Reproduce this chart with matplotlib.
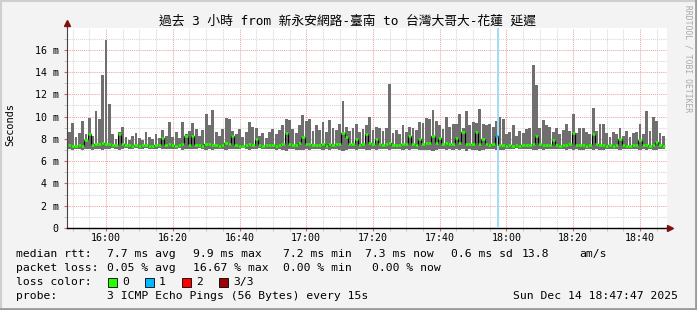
"""SmokePing style latency chart (3 hours)."""

import matplotlib

matplotlib.use("Agg")
from matplotlib import pyplot as plt  # noqa: E402
from matplotlib.lines import Line2D  # noqa: E402
from matplotlib.patches import Rectangle  # noqa: E402
import numpy as np  # noqa: E402

TITLE = "過去 3 小時 from 新永安網路-臺南 to 台灣大哥大-花蓮 延遲"

# one smoke bin per minute, first bin centred at 15:49
first_bin = "15:49"
ref_clock = "16:00"

ping_max = [
    8.6, 9.4, 8.2, 8.5, 9.6, 8.4, 9.9, 8.3, 10.5, 9.8,
    13.7, 16.9, 11.1, 8.4, 8.0, 8.6, 9.1, 8.2, 7.9, 8.3,
    8.5, 8.1, 7.9, 8.6, 8.2, 8.0, 8.4, 8.1, 8.8, 8.3,
    9.5, 8.2, 8.6, 8.1, 9.5, 8.4, 8.7, 9.4, 8.9, 8.3,
    8.8, 10.2, 9.2, 10.6, 8.6, 8.3, 8.9, 9.85, 9.8, 8.7,
    8.4, 8.9, 8.2, 8.6, 9.5, 9.1, 9.0, 8.3, 8.5, 8.1,
    8.6, 8.9, 8.4, 8.8, 9.2, 9.8, 9.7, 8.9, 8.5, 9.2,
    10.1, 9.6, 9.8, 8.7, 9.2, 8.8, 9.5, 8.6, 9.7, 9.0,
    8.8, 9.3, 11.4, 9.1, 8.7, 9.0, 9.3, 8.6, 8.9, 9.2,
    10.0, 8.8, 9.1, 9.0, 8.7, 9.0, 12.9, 8.5, 8.8, 8.4,
    9.2, 8.6, 9.1, 9.0, 8.8, 9.5, 9.4, 9.9, 9.8, 10.6,
    9.6, 9.2, 8.9, 10.0, 9.1, 9.3, 9.3, 10.2, 9.0, 10.5,
    9.2, 9.5, 9.4, 10.7, 9.3, 9.2, 9.3, 9.1, 9.6, 10.0,
    9.8, 8.4, 8.6, 9.2, 8.3, 8.7, 8.5, 8.9, 9.0, 14.6,
    12.8, 9.0, 9.7, 9.2, 9.1, 8.6, 9.0, 8.4, 8.8, 9.3,
    8.7, 10.2, 8.5, 9.0, 9.0, 8.6, 8.4, 10.8, 8.7, 9.3,
    9.3, 8.5, 8.2, 8.6, 8.4, 9.0, 8.3, 8.7, 8.2, 8.5,
    8.6, 9.3, 8.4, 10.5, 8.7, 10.0, 9.6, 8.5, 8.3,
]

ping_min = [
    7.10, 7.02, 7.12, 7.05, 7.00, 7.10, 7.08, 7.02, 7.12, 7.05,
    7.00, 7.05, 7.10, 7.15, 7.08, 7.02, 7.10, 7.15, 7.12, 7.08,
    7.15, 7.10, 7.12, 7.18, 7.10, 7.05, 7.12, 7.15, 7.08, 7.10,
    7.05, 7.12, 7.10, 7.15, 7.02, 7.08, 7.12, 7.05, 7.10, 7.15,
    7.08, 7.00, 7.05, 7.02, 7.10, 7.12, 7.08, 7.00, 7.05, 7.10,
    7.12, 7.08, 7.15, 7.10, 7.02, 7.05, 7.10, 7.15, 7.12, 7.08,
    7.05, 7.10, 7.02, 7.08, 7.00, 6.95, 7.05, 7.10, 7.02, 7.00,
    6.98, 7.05, 7.02, 7.10, 7.05, 7.08, 7.00, 7.12, 7.02, 7.05,
    7.10, 7.02, 6.95, 7.00, 7.08, 7.05, 7.00, 7.10, 7.05, 7.00,
    6.98, 7.08, 7.02, 7.10, 7.12, 7.05, 7.00, 7.10, 7.08, 7.12,
    7.02, 7.10, 7.00, 7.08, 7.05, 7.00, 7.02, 6.98, 7.00, 6.95,
    7.02, 7.05, 7.10, 7.00, 7.08, 7.02, 7.05, 6.98, 7.05, 6.95,
    7.05, 7.00, 6.98, 6.95, 7.02, 7.08, 7.05, 7.10, 7.00, 6.98,
    7.02, 7.10, 7.12, 7.05, 7.15, 7.10, 7.12, 7.08, 7.05, 7.00,
    6.98, 7.08, 7.02, 7.10, 7.05, 7.10, 7.08, 7.12, 7.05, 7.02,
    7.08, 6.98, 7.05, 7.02, 7.00, 7.08, 7.12, 6.98, 7.05, 7.02,
    7.00, 7.08, 7.12, 7.05, 7.10, 7.02, 7.08, 7.05, 7.12, 7.08,
    7.05, 7.02, 7.10, 6.98, 7.05, 7.00, 7.02, 7.08, 7.10,
]

ping_median = [
    7.42, 7.38, 7.35, 7.45, 7.40, 7.90, 8.40, 7.45, 7.50, 7.55,
    7.60, 7.55, 7.50, 7.45, 7.48, 8.40, 7.50, 7.45, 7.42, 7.40,
    7.45, 7.38, 7.42, 7.48, 7.40, 7.35, 7.45, 7.42, 8.10, 7.45,
    7.50, 7.42, 7.38, 7.45, 7.50, 8.30, 7.48, 8.30, 7.45, 7.42,
    7.40, 7.50, 7.55, 7.48, 7.42, 7.38, 7.45, 7.60, 7.55, 8.30,
    7.45, 7.40, 7.38, 7.42, 7.50, 7.48, 8.00, 7.42, 7.40, 7.45,
    7.42, 7.48, 7.40, 7.45, 7.50, 8.50, 7.55, 7.48, 7.45, 7.60,
    8.20, 7.55, 7.50, 7.42, 7.48, 7.45, 7.52, 7.40, 7.55, 7.48,
    7.50, 7.55, 8.50, 8.20, 7.55, 7.50, 8.00, 7.48, 7.55, 8.40,
    7.60, 7.55, 8.00, 7.50, 7.45, 7.52, 7.60, 7.45, 7.48, 7.42,
    7.50, 7.55, 8.30, 7.50, 7.48, 8.00, 7.55, 7.60, 7.65, 8.30,
    7.60, 8.10, 7.55, 7.62, 7.50, 7.55, 8.10, 7.60, 8.60, 7.55,
    7.50, 7.58, 8.60, 7.55, 8.00, 7.50, 7.45, 7.52, 8.30, 7.48,
    7.45, 7.40, 7.42, 7.38, 7.45, 7.40, 7.42, 7.48, 7.45, 7.55,
    8.30, 7.50, 7.45, 7.42, 7.48, 7.90, 7.45, 7.40, 7.42, 7.45,
    7.50, 8.50, 7.45, 7.42, 7.48, 7.40, 7.45, 8.40, 7.50, 7.45,
    7.42, 7.40, 7.45, 7.38, 7.42, 8.00, 7.45, 7.40, 7.38, 7.42,
    7.45, 7.90, 7.42, 7.48, 7.40, 7.45, 7.70, 7.42, 7.40,
]

# bins with lost pings (clock, lost of 3)
loss_times = ["17:57:27"]
loss_counts = [1]

x_tick_labels = ["16:00", "16:20", "16:40", "17:00", "17:20", "17:40",
                 "18:00", "18:20", "18:40"]
y_tick_values = [0, 2, 4, 6, 8, 10, 12, 14, 16]
y_tick_labels = ["0", "2 m", "4 m", "6 m", "8 m", "10 m", "12 m", "14 m", "16 m"]

LOSS_COLORS = ["#26ff00", "#00b8ff", "#ff0000", "#a00000"]
LOSS_NAMES = ["0", "1", "2", "3/3"]

legend_rows = [
    [("median rtt:", 16), ("7.7 ms avg", 107), ("9.9 ms max", 193),
     ("7.2 ms min", 283), ("7.3 ms now", 365), ("0.6 ms sd", 451),
     ("13.8", 522), ("am/s", 579)],
    [("packet loss:", 16), ("0.05 % avg", 107), ("16.67 % max", 193),
     ("0.00 % min", 283), ("0.00 % now", 372)],
]
probe_text = "3 ICMP Echo Pings (56 Bytes) every 15s"
stamp_text = "Sun Dec 14 18:47:47 2025"

MONO = "DejaVu Sans Mono"
W, H = 697, 310


def clock_to_min(clock: str) -> float:
    parts = [int(p) for p in clock.split(":")]
    while len(parts) < 3:
        parts.append(0)
    h, m, s = parts
    rh, rm = (int(p) for p in ref_clock.split(":"))
    return (h - rh) * 60 + (m - rm) + s / 60.0


def px(x, y):
    return x / W, 1 - y / H


t0 = clock_to_min(first_bin)
times = t0 + np.arange(len(ping_max))
ping_max = np.array(ping_max)
ping_min = np.array(ping_min)
ping_median = np.array(ping_median)

fig = plt.figure(figsize=(W / 100, H / 100), dpi=100, facecolor="#f3f3f3")
ax = fig.add_axes([67 / W, (H - 228) / H, 600 / W, 200 / H])
ax.set_facecolor("#ffffff")

x_left, x_right = -11.69, 168.1
ax.set_xlim(x_left, x_right)
ax.set_ylim(0, 17.95)

# grid
major_x = [clock_to_min(c) for c in x_tick_labels]
minor_x = np.arange(-10, 168, 5)
ax.set_xticks(major_x, x_tick_labels)
ax.set_xticks(minor_x, minor=True)
ax.set_yticks(y_tick_values, y_tick_labels)
ax.set_yticks(np.arange(0, 18, 1), minor=True)
ax.grid(which="minor", color="#d6d6d6", linestyle=(0, (1, 1)), linewidth=0.75)
ax.grid(which="major", color="#eea4a4", linestyle=(0, (1, 1)), linewidth=0.75)
ax.set_axisbelow(True)

ax.tick_params(axis="both", which="both", labelsize=7.2, colors="#000000")
ax.tick_params(axis="x", which="major", length=2.5, color="#e06060", pad=1.4)
ax.tick_params(axis="x", which="minor", length=2, color="#bbbbbb")
ax.tick_params(axis="y", which="major", length=2.5, color="#e06060", pad=3.4)
ax.tick_params(axis="y", which="minor", length=2, color="#bbbbbb")
for lab in ax.get_xticklabels() + ax.get_yticklabels():
    lab.set_family(MONO)

for side in ("top", "right"):
    ax.spines[side].set_visible(False)
ax.spines["bottom"].set_color("#000000")
ax.spines["left"].set_color("#444444")
ax.spines["bottom"].set_linewidth(1.0)
ax.spines["left"].set_linewidth(0.8)

# smoke: solid from min up to the median ping, thin spikes above it
ax.bar(times, ping_median - ping_min, bottom=ping_min, width=1.0,
       color="#6f6f6f", linewidth=0, zorder=2)
ax.bar(times, ping_max - ping_median, bottom=ping_median, width=0.85,
       color="#6f6f6f", linewidth=0, zorder=2)

# loss bars
loss_pos = [clock_to_min(c) for c in loss_times]
for pos, cnt in zip(loss_pos, loss_counts):
    ax.axvspan(pos - 0.3, pos + 0.3, color="#a4dcf2", linewidth=0, zorder=3)

# median line coloured by loss
ax.step(times, ping_median, where="mid", color="#000000", linewidth=0.8, zorder=4)
colors = [LOSS_COLORS[0]] * len(times)
for pos, cnt in zip(loss_pos, loss_counts):
    idx = int(np.argmin(np.abs(times - pos)))
    colors[idx] = LOSS_COLORS[cnt]
ax.hlines(ping_median, times - 0.5, times + 0.5, colors=colors,
          linewidth=1.8, zorder=5)

# axis arrows
ax.plot([x_right, 168.9], [0, 0], color="#000000", linewidth=1.0,
        clip_on=False, zorder=6)
ax.plot([168.9], [0], marker=">", markersize=4, color="#7f1010",
        clip_on=False, zorder=7)
ax.plot([x_left, x_left], [17.95, 18.4], color="#444444", linewidth=0.8,
        clip_on=False, zorder=6)
ax.plot([x_left], [18.4], marker="^", markersize=4, color="#7f1010",
        clip_on=False, zorder=7)

# texts
fig.text(*px(347.5, 21.5), TITLE, ha="center", va="center", fontsize=9.2,
         family=[MONO, "Noto Sans CJK TC"])
fig.text(*px(10, 125), "Seconds", rotation=90, ha="center", va="center",
         fontsize=7.4, family=MONO)
fig.text(*px(688, 59), "RRDTOOL / TOBI OETIKER", rotation=270, ha="center",
         va="center", fontsize=5.8, family=MONO, color="#a8a8a8")

LEG = 8.2
row_y = [254, 268, 282, 296]
for row, y in zip(legend_rows, row_y[:2]):
    for text, x in row:
        fig.text(*px(x, y), text, ha="left", va="center", fontsize=LEG, family=MONO)

fig.text(*px(16, row_y[2]), "loss color:", ha="left", va="center",
         fontsize=LEG, family=MONO)
box_x = [108, 145, 182, 219]
for bx, col, name in zip(box_x, LOSS_COLORS, LOSS_NAMES):
    fig.add_artist(Rectangle(px(bx, row_y[2] + 4.5), 8.5 / W, 8.5 / H,
                             facecolor=col, edgecolor="#000000",
                             linewidth=0.6, transform=fig.transFigure))
    fig.text(*px(bx + 14, row_y[2]), name, ha="left", va="center",
             fontsize=LEG, family=MONO)

fig.text(*px(16, row_y[3]), "probe:", ha="left", va="center",
         fontsize=LEG, family=MONO)
fig.text(*px(107, row_y[3]), probe_text, ha="left", va="center",
         fontsize=LEG, family=MONO)
fig.text(*px(513, row_y[3]), stamp_text, ha="left", va="center",
         fontsize=LEG, family=MONO)

# 3d frame
fig.add_artist(Line2D([0, 1], [1 - 1 / H, 1 - 1 / H], color="#cfcfcf",
                      linewidth=1.5, transform=fig.transFigure))
fig.add_artist(Line2D([1 / W, 1 / W], [0, 1], color="#cfcfcf",
                      linewidth=1.5, transform=fig.transFigure))
fig.add_artist(Line2D([0, 1], [1 / H, 1 / H], color="#9a9a9a",
                      linewidth=2.0, transform=fig.transFigure))
fig.add_artist(Line2D([1 - 1 / W, 1 - 1 / W], [0, 1], color="#9a9a9a",
                      linewidth=2.0, transform=fig.transFigure))

fig.savefig("out.png", dpi=100, facecolor=fig.get_facecolor())
